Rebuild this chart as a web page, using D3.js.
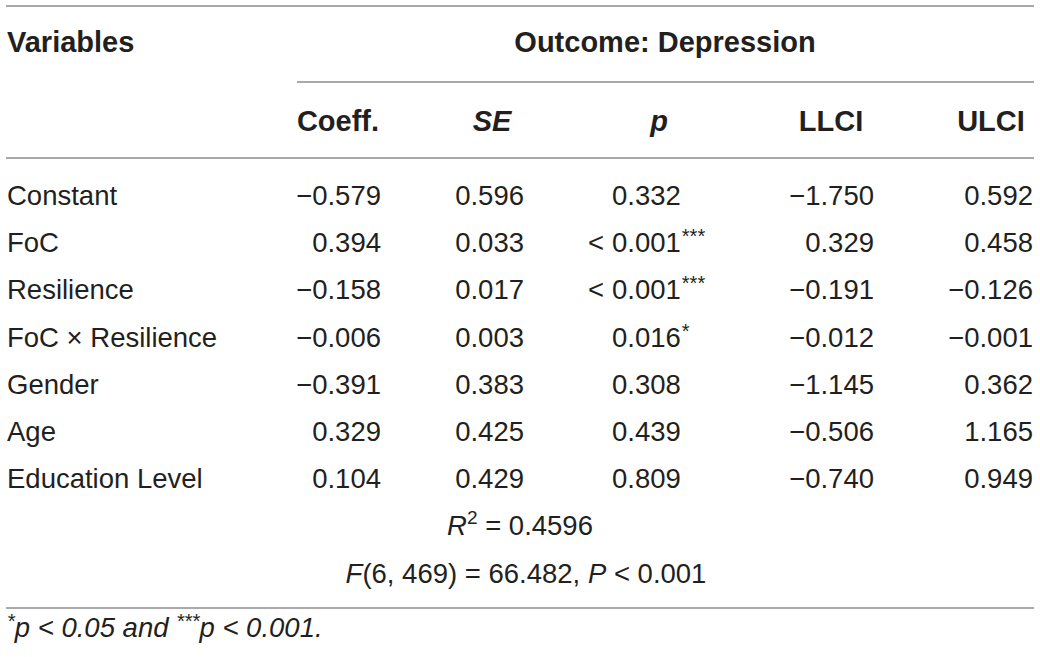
<!DOCTYPE html>
<html>
<head>
<meta charset="utf-8">
<script src="https://cdn.jsdelivr.net/npm/d3@7"></script>
<style>
  body { margin: 0; background: #fff; }
  text { font-family: "Liberation Sans", Arial, sans-serif; fill: #231f20; }
</style>
</head>
<body>
<div id="chart"></div>
<script>
var variables = ["Constant", "FoC", "Resilience", "FoC \u00d7 Resilience", "Gender", "Age", "Education Level"];
var coeff = ["\u22120.579", "0.394", "\u22120.158", "\u22120.006", "\u22120.391", "0.329", "0.104"];
var se    = ["0.596", "0.033", "0.017", "0.003", "0.383", "0.425", "0.429"];
var pPrefix = ["", "<", "<", "", "", "", ""];
var pValue  = ["0.332", "0.001", "0.001", "0.016", "0.308", "0.439", "0.809"];
var pStars  = ["", "***", "***", "*", "", "", ""];
var llci  = ["\u22121.750", "0.329", "\u22120.191", "\u22120.012", "\u22121.145", "\u22120.506", "\u22120.740"];
var ulci  = ["0.592", "0.458", "\u22120.126", "\u22120.001", "0.362", "1.165", "0.949"];
var headers = ["Coeff.", "SE", "p", "LLCI", "ULCI"];
var rSquared = "0.4596";
var fStat = {df1: 6, df2: 469, value: "66.482", p: "0.001"};

var width = 1040, height = 657, fs = 27.5, fsBold = 29;

var svg = d3.select("#chart").append("svg")
    .attr("width", width)
    .attr("height", height);

// row baselines
var y = d3.scalePoint().domain(variables).range([205, 488]);

// column positions: header centres and value right edges
var headX = d3.scaleOrdinal().domain(headers).range([338, 492, 659, 831, 991]);
var valX  = d3.scaleOrdinal().domain(["Coeff.", "SE", "LLCI", "ULCI"]).range([381, 524, 874, 1033]);
var pLeft = 612;

// rules
var rules = [
  {x1: 6, x2: 1034, y: 6},
  {x1: 297, x2: 1034, y: 82},
  {x1: 6, x2: 1034, y: 158},
  {x1: 6, x2: 1034, y: 608}
];
svg.selectAll("line.rule").data(rules).enter().append("line")
    .attr("class", "rule")
    .attr("x1", function(d) { return d.x1; })
    .attr("x2", function(d) { return d.x2; })
    .attr("y1", function(d) { return d.y; })
    .attr("y2", function(d) { return d.y; })
    .attr("stroke", "#8c8c8c")
    .attr("stroke-width", 1.5);

// header
svg.append("text").attr("x", 7).attr("y", 52)
    .attr("font-size", fsBold).attr("font-weight", "bold")
    .text("Variables");
svg.append("text").attr("x", 665).attr("y", 52)
    .attr("font-size", fsBold).attr("font-weight", "bold")
    .attr("text-anchor", "middle")
    .text("Outcome: Depression");

svg.selectAll("text.head").data(headers).enter().append("text")
    .attr("class", "head")
    .attr("x", function(d) { return headX(d); })
    .attr("y", 131)
    .attr("font-size", fsBold).attr("font-weight", "bold")
    .attr("font-style", function(d) { return (d === "SE" || d === "p") ? "italic" : "normal"; })
    .attr("text-anchor", "middle")
    .text(function(d) { return d; });

// body rows
var rows = variables.map(function(v, i) {
  return {name: v, coeff: coeff[i], se: se[i], pre: pPrefix[i], p: pValue[i], star: pStars[i], llci: llci[i], ulci: ulci[i]};
});

var row = svg.selectAll("g.row").data(rows).enter().append("g")
    .attr("class", "row")
    .attr("transform", function(d) { return "translate(0," + y(d.name) + ")"; })
    .attr("font-size", fs);

row.append("text").attr("x", 7).text(function(d) { return d.name; });
row.append("text").attr("x", valX("Coeff.")).attr("text-anchor", "end").text(function(d) { return d.coeff; });
row.append("text").attr("x", valX("SE")).attr("text-anchor", "end").text(function(d) { return d.se; });
row.append("text").attr("x", pLeft - 8).attr("text-anchor", "end").text(function(d) { return d.pre; });
var pt = row.append("text").attr("x", pLeft);
pt.append("tspan").text(function(d) { return d.p; });
pt.append("tspan").attr("font-size", 20).attr("dx", 1).attr("dy", -9).text(function(d) { return d.star; });
row.append("text").attr("x", valX("LLCI")).attr("text-anchor", "end").text(function(d) { return d.llci; });
row.append("text").attr("x", valX("ULCI")).attr("text-anchor", "end").text(function(d) { return d.ulci; });

// model fit
var r2 = svg.append("text").attr("x", 520).attr("y", 535)
    .attr("font-size", fs).attr("text-anchor", "middle");
r2.append("tspan").attr("font-style", "italic").text("R");
r2.append("tspan").attr("font-size", 19).attr("dy", -11).text("2");
r2.append("tspan").attr("dy", 11).text(" = " + rSquared);

var ft = svg.append("text").attr("x", 526).attr("y", 583)
    .attr("font-size", fs).attr("text-anchor", "middle");
ft.append("tspan").attr("font-style", "italic").text("F");
ft.append("tspan").text("(" + fStat.df1 + ", " + fStat.df2 + ") = " + fStat.value + ", ");
ft.append("tspan").attr("font-style", "italic").text("P");
ft.append("tspan").text(" < " + fStat.p);

// footnote
var fn = svg.append("text").attr("x", 7).attr("y", 637)
    .attr("font-size", fs).attr("font-style", "italic");
fn.append("tspan").attr("font-size", 20).attr("dy", -9).text("*");
fn.append("tspan").attr("dy", 9).text("p < 0.05 and ");
fn.append("tspan").attr("font-size", 20).attr("dy", -9).text("***");
fn.append("tspan").attr("dy", 9).text("p < 0.001.");
</script>
</body>
</html>
